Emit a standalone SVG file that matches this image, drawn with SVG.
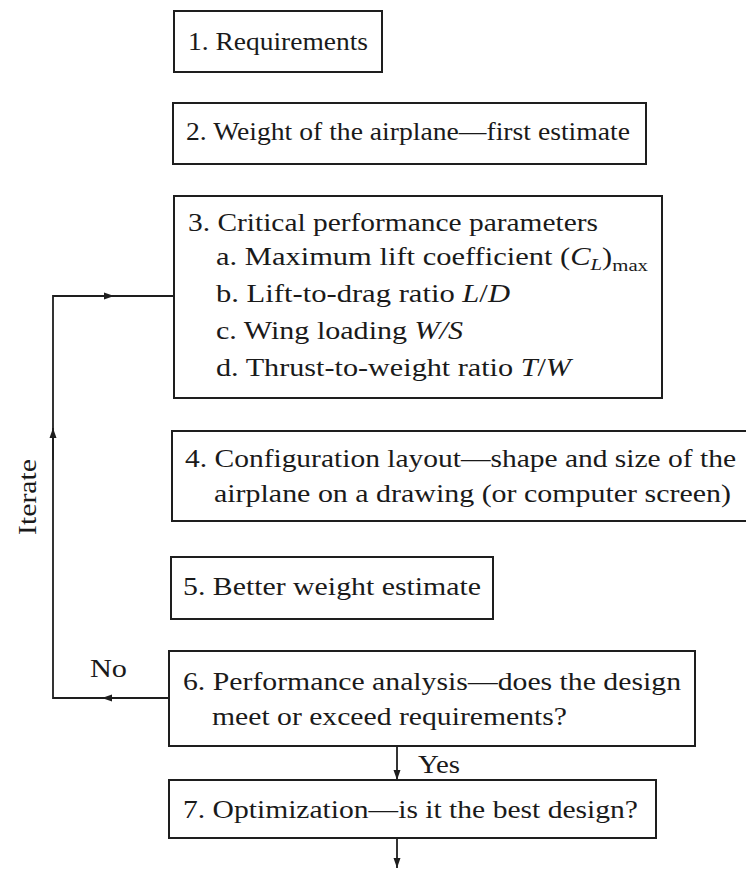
<svg xmlns="http://www.w3.org/2000/svg" width="746" height="870" viewBox="0 0 746 870">
<style>
.box{fill:#fff;stroke:#1e1e1e;stroke-width:2}
.t{font-family:"Liberation Serif","Times New Roman",serif;font-size:25px;fill:#1a1a1a}
.i{font-style:italic}
.ln{fill:none;stroke:#1e1e1e;stroke-width:1.8}
</style>
<defs>
<marker id="ah" viewBox="0 0 10 10" refX="10" refY="5" markerWidth="10" markerHeight="10" markerUnits="userSpaceOnUse" orient="auto">
<path d="M0,1.5 L10,5 L0,8.5 Z" fill="#1e1e1e"/>
</marker>
</defs>
<rect width="746" height="870" fill="#fff"/>
<g id="connectors">
<path class="ln" d="M169,698 H53 V296 H174"/>
<path class="ln" d="M130,698 H102" marker-end="url(#ah)"/>
<path class="ln" d="M53,460 V428" marker-end="url(#ah)"/>
<path class="ln" d="M80,296 H114" marker-end="url(#ah)"/>
<path class="ln" d="M397,746 V780" marker-end="url(#ah)"/>
<path class="ln" d="M397,838 V868" marker-end="url(#ah)"/>
<text class="t" x="90" y="677" textLength="37" lengthAdjust="spacingAndGlyphs">No</text>
<text class="t" x="418" y="773" textLength="42" lengthAdjust="spacingAndGlyphs">Yes</text>
<text class="t" transform="translate(36,535) rotate(-90)" x="0" y="0" textLength="76" lengthAdjust="spacingAndGlyphs">Iterate</text>
</g>
<g id="n1">
<rect class="box" x="174" y="11" width="208" height="61"/>
<text class="t" x="188" y="50" textLength="180" lengthAdjust="spacingAndGlyphs">1. Requirements</text>
</g>
<g id="n2">
<rect class="box" x="173" y="103" width="473" height="61"/>
<text class="t" x="186" y="140" textLength="444" lengthAdjust="spacingAndGlyphs">2. Weight of the airplane—first estimate</text>
</g>
<g id="n3">
<rect class="box" x="174" y="196" width="488" height="202"/>
<text class="t" x="188" y="231" textLength="410" lengthAdjust="spacingAndGlyphs">3. Critical performance parameters</text>
<text class="t" x="216" y="265" textLength="432" lengthAdjust="spacingAndGlyphs">a. Maximum lift coefficient (<tspan class="i">C</tspan><tspan class="i" font-size="17" dy="5">L</tspan><tspan dy="-5">)</tspan><tspan font-size="17" dy="6">max</tspan></text>
<text class="t" x="216" y="302" textLength="294" lengthAdjust="spacingAndGlyphs">b. Lift-to-drag ratio <tspan class="i">L</tspan>/<tspan class="i">D</tspan></text>
<text class="t" x="216" y="339" textLength="247" lengthAdjust="spacingAndGlyphs">c. Wing loading <tspan class="i">W/S</tspan></text>
<text class="t" x="216" y="376" textLength="355" lengthAdjust="spacingAndGlyphs">d. Thrust-to-weight ratio <tspan class="i">T</tspan>/<tspan class="i">W</tspan></text>
</g>
<g id="n4">
<rect class="box" x="172" y="431" width="580" height="90"/>
<text class="t" x="185" y="467" textLength="551" lengthAdjust="spacingAndGlyphs">4. Configuration layout—shape and size of the</text>
<text class="t" x="214" y="502" textLength="517" lengthAdjust="spacingAndGlyphs">airplane on a drawing (or computer screen)</text>
</g>
<g id="n5">
<rect class="box" x="171" y="557" width="322" height="62"/>
<text class="t" x="183" y="595" textLength="298" lengthAdjust="spacingAndGlyphs">5. Better weight estimate</text>
</g>
<g id="n6">
<rect class="box" x="169" y="651" width="526" height="95"/>
<text class="t" x="183" y="690" textLength="498" lengthAdjust="spacingAndGlyphs">6. Performance analysis—does the design</text>
<text class="t" x="212" y="725" textLength="355" lengthAdjust="spacingAndGlyphs">meet or exceed requirements?</text>
</g>
<g id="n7">
<rect class="box" x="169" y="780" width="487" height="58"/>
<text class="t" x="183" y="818" textLength="455" lengthAdjust="spacingAndGlyphs">7. Optimization—is it the best design?</text>
</g>
</svg>
